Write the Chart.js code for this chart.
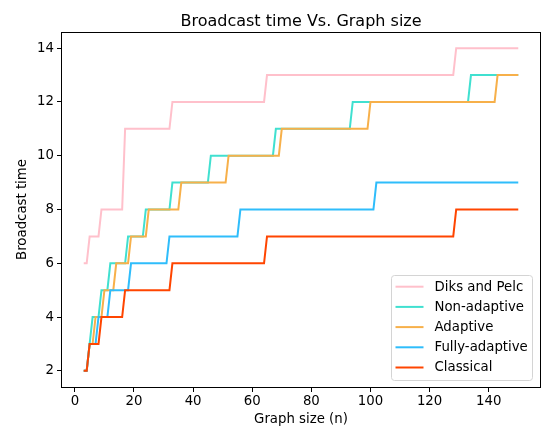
<!DOCTYPE html>
<html>
<head>
<meta charset="utf-8">
<script src="https://cdn.jsdelivr.net/npm/chart.js@4"></script>
<style>
  body { margin: 0; background: #fff; }
  canvas { display: block; }
</style>
</head>
<body>
<canvas id="chart" width="543" height="430"></canvas>
<script>
// step points (graph size n, broadcast time)
const diksN = [3, 4, 5, 8, 9, 16, 17, 32, 33, 64, 65, 128, 129, 150];
const diksT = [6, 6, 7, 7, 8, 8, 11, 11, 12, 12, 13, 13, 14, 14];

const nonAdaptiveN = [3, 4, 5, 6, 8, 9, 11, 12, 17, 18, 23, 24, 32, 33, 45, 46, 67, 68, 93, 94, 133, 134, 150];
const nonAdaptiveT = [2, 2, 3, 4, 4, 5, 5, 6, 6, 7, 7, 8, 8, 9, 9, 10, 10, 11, 11, 12, 12, 13, 13];

const adaptiveN = [3, 4, 5, 6, 7, 9, 10, 13, 14, 18, 19, 24, 25, 35, 36, 51, 52, 69, 70, 99, 100, 142, 143, 150];
const adaptiveT = [2, 2, 3, 3, 4, 4, 5, 5, 6, 6, 7, 7, 8, 8, 9, 9, 10, 10, 11, 11, 12, 12, 13, 13];

const fullyN = [3, 4, 5, 7, 8, 11, 12, 18, 19, 31, 32, 55, 56, 101, 102, 150];
const fullyT = [2, 2, 3, 3, 4, 4, 5, 5, 6, 6, 7, 7, 8, 8, 9, 9];

const classicalN = [3, 4, 5, 8, 9, 16, 17, 32, 33, 64, 65, 128, 129, 150];
const classicalT = [2, 2, 3, 3, 4, 4, 5, 5, 6, 6, 7, 7, 8, 8];

const seriesNames = ["Diks and Pelc", "Non-adaptive", "Adaptive", "Fully-adaptive", "Classical"];
const seriesColors = ["#ffc0cb", "#40e0d0", "#f7b04a", "#2fbdfb", "#ff4500"];
const xTicks = [0, 20, 40, 60, 80, 100, 120, 140];
const yTicks = [2, 4, 6, 8, 10, 12, 14];
const chartTitle = "Broadcast time Vs. Graph size";

const FONT = "'DejaVu Sans', sans-serif";

function points(ns, ts) {
  return ns.map((n, i) => ({ x: n, y: ts[i] }));
}

let allN = [diksN, nonAdaptiveN, adaptiveN, fullyN, classicalN];
let allT = [diksT, nonAdaptiveT, adaptiveT, fullyT, classicalT];

let datasets = seriesNames.map((name, i) => ({
  label: name,
  data: points(allN[i], allT[i]),
  borderColor: seriesColors[i],
  backgroundColor: seriesColors[i],
  borderWidth: 2,
  pointRadius: 0,
  tension: 0,
  fill: false,
  order: seriesNames.length - i,
}));

// box round the plot, like matplotlib spines, and the title centred over it
const frame = {
  id: "frame",
  afterDatasetsDraw(chart) {
    let { ctx, chartArea: a } = chart;
    ctx.save();
    ctx.strokeStyle = "#000";
    ctx.lineWidth = 1;
    let l = Math.round(a.left) - 0.5, t = Math.round(a.top) + 0.5;
    let r = Math.round(a.right) + 0.5, b = Math.round(a.bottom) + 0.5;
    ctx.strokeRect(l, t, r - l, b - t);

    ctx.fillStyle = "#000";
    ctx.font = "16px " + FONT;
    ctx.textAlign = "center";
    ctx.textBaseline = "alphabetic";
    ctx.fillText(chartTitle, (a.left + a.right) / 2, 25.5);
    ctx.restore();
  },
};

// legend in the lower right corner of the plot
const legendBox = {
  id: "legendBox",
  afterDraw(chart) {
    let { ctx, chartArea: a } = chart;
    let w = 141, h = 105, rowH = 20.2;
    let x0 = a.right - 8 - w;
    let y0 = a.bottom - 7 - h;
    ctx.save();
    ctx.beginPath();
    ctx.roundRect(x0 + 0.5, y0 + 0.5, w, h, 3);
    ctx.fillStyle = "rgba(255,255,255,0.8)";
    ctx.fill();
    ctx.strokeStyle = "#d4d4d4";
    ctx.lineWidth = 1;
    ctx.stroke();
    ctx.font = "13.3px " + FONT;
    ctx.textBaseline = "middle";
    ctx.fillStyle = "#000";
    chart.data.datasets.forEach((ds, i) => {
      let y = y0 + 11.7 + i * rowH;
      ctx.strokeStyle = ds.borderColor;
      ctx.lineWidth = 2;
      ctx.beginPath();
      ctx.moveTo(x0 + 4.5, y);
      ctx.lineTo(x0 + 32.5, y);
      ctx.stroke();
      ctx.fillText(ds.label, x0 + 43.5, y + 0.5);
    });
    ctx.restore();
  },
};

new Chart(document.getElementById("chart"), {
  type: "line",
  data: { datasets: datasets },
  options: {
    responsive: false,
    animation: false,
    layout: { padding: { left: 0, right: 3, top: 32, bottom: 0 } },
    plugins: {
      legend: { display: false },
      tooltip: { enabled: false },
      title: { display: false },
    },
    scales: {
      x: {
        type: "linear",
        min: -4.35,
        max: 157.35,
        afterBuildTicks: (s) => {
          s.ticks = xTicks.map((v) => ({ value: v }));
        },
        afterFit: (s) => {
          s.height = 43;
        },
        border: { display: false },
        grid: { drawOnChartArea: false, drawTicks: true, tickLength: 5, color: "#000" },
        ticks: { color: "#000", padding: 2, maxRotation: 0, font: { family: FONT, size: 13.3 } },
        title: {
          display: true,
          text: "Graph size (n)",
          color: "#000",
          font: { family: FONT, size: 13.3 },
          padding: { top: 0, bottom: 2 },
        },
      },
      y: {
        min: 1.4,
        max: 14.6,
        afterBuildTicks: (s) => {
          s.ticks = yTicks.map((v) => ({ value: v }));
        },
        afterFit: (s) => {
          s.width = 62;
        },
        border: { display: false },
        grid: { drawOnChartArea: false, drawTicks: true, tickLength: 5, color: "#000" },
        ticks: { color: "#000", padding: 3, font: { family: FONT, size: 13.3 } },
        title: {
          display: true,
          text: "Broadcast time",
          color: "#000",
          font: { family: FONT, size: 13.3 },
          padding: { top: 15, bottom: 0 },
        },
      },
    },
  },
  plugins: [frame, legendBox],
});
</script>
</body>
</html>
